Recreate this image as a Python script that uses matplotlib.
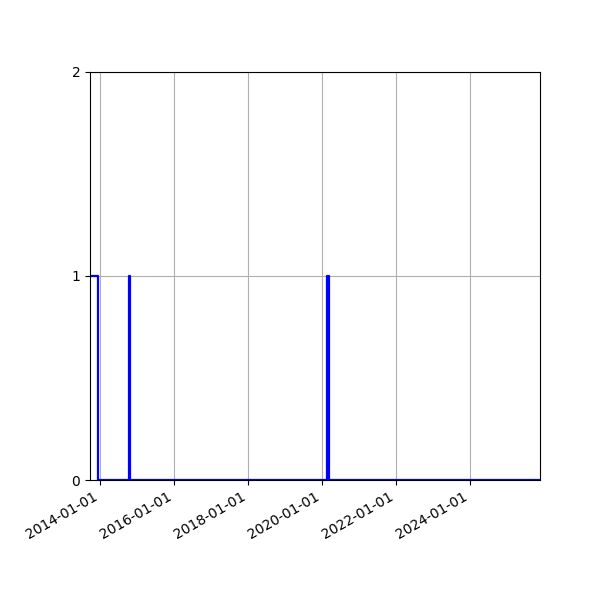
import numpy as np
import pandas as pd
import matplotlib
matplotlib.use('Agg')
import matplotlib.pyplot as plt
import matplotlib.dates as mdates

# change points of the on/off state
dates = pd.to_datetime([
    '2013-09-21', '2013-12-09',
    '2014-10-12', '2014-10-19',
    '2020-02-19', '2020-03-06',
    '2025-11-24',
])
states = [1, 0, 1, 0, 1, 0, 0]
yticks = [0, 1, 2]


def main():
    fig = plt.figure(figsize=(6, 6), dpi=100)
    ax = fig.add_axes([0.15, 0.2, 0.75, 0.68])
    ax.step(dates, states, where='post', color='b', linewidth=1.6)

    ax.set_xlim(dates[0], dates[-1])
    ax.set_ylim(0, 2)
    ax.set_yticks(yticks)
    ax.xaxis.set_major_locator(mdates.YearLocator(2))
    ax.xaxis.set_major_formatter(mdates.DateFormatter('%Y-%m-%d'))
    ax.grid(True)
    for lbl in ax.get_xticklabels():
        lbl.set_rotation(30)
        lbl.set_ha('right')

    fig.savefig('out.png')


if __name__ == '__main__':
    main()
